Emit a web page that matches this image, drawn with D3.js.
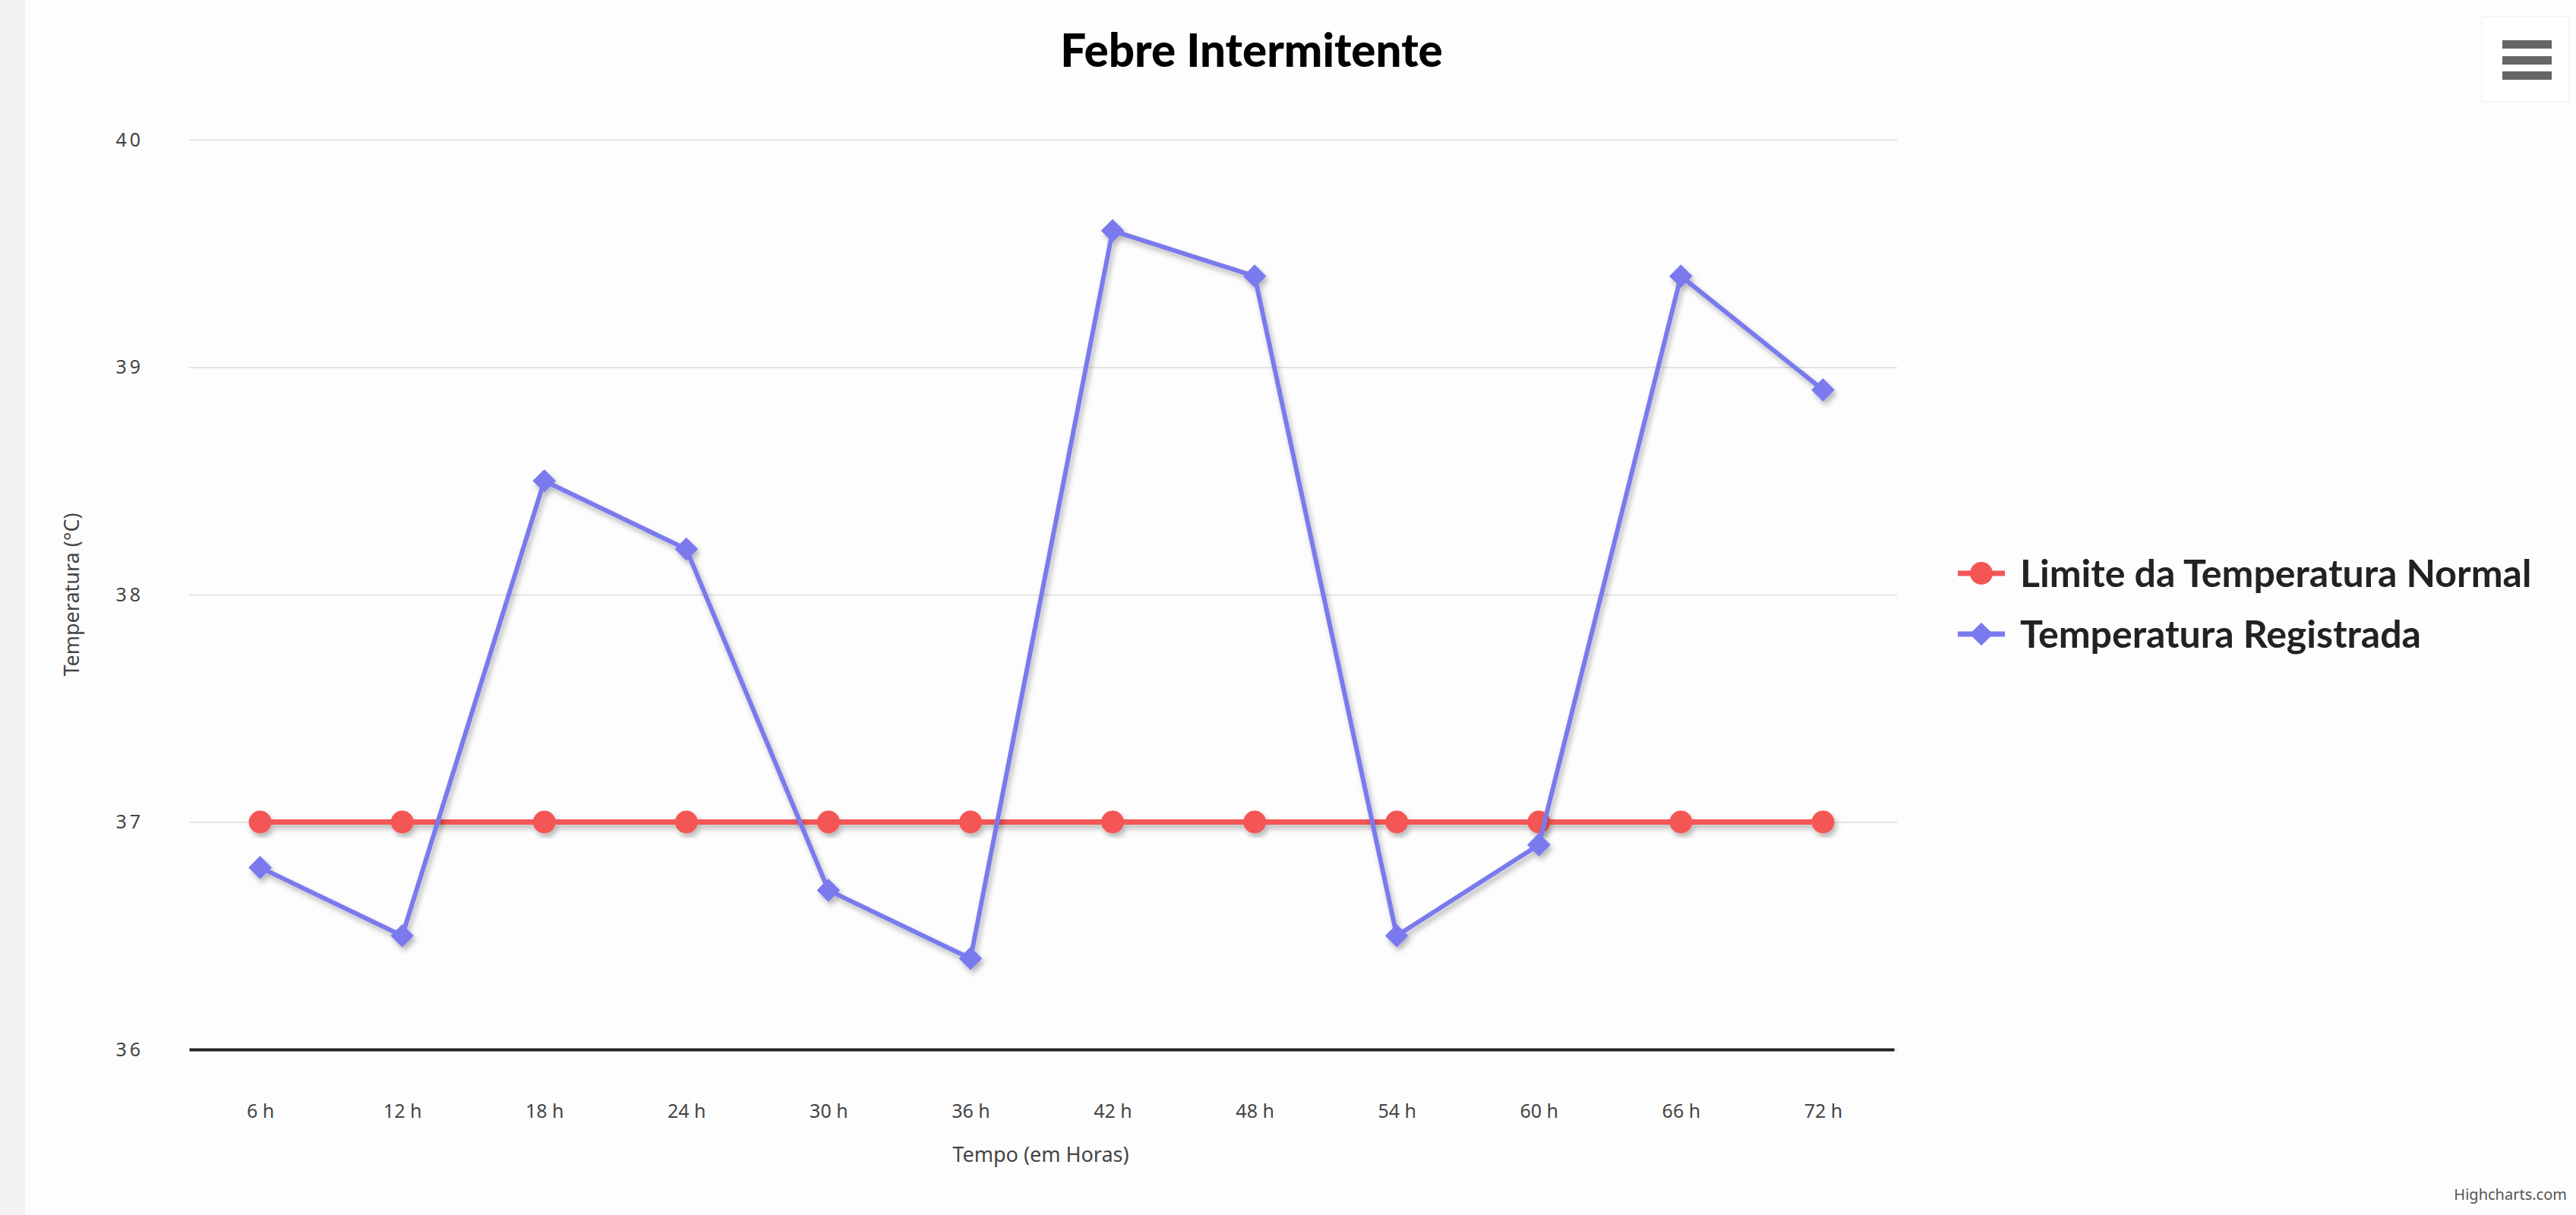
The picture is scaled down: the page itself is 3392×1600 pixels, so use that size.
<!DOCTYPE html>
<html>
<head>
<meta charset="utf-8">
<script src="https://cdnjs.cloudflare.com/ajax/libs/d3/7.8.5/d3.min.js"></script>
<style>
  html, body { margin: 0; padding: 0; background: #fcfcfc; }
  svg { display: block; }
  .tick text { font-family: "Noto Sans", sans-serif; fill: #444; }
</style>
</head>
<body>
<svg id="chart"></svg>
<script>
// chart data
var horas = ["6 h","12 h","18 h","24 h","30 h","36 h","42 h","48 h","54 h","60 h","66 h","72 h"],
  limiteNormal = [37,37,37,37,37,37,37,37,37,37,37,37],
  registrada = [36.8,36.5,38.5,38.2,36.7,36.4,39.6,39.4,36.5,36.9,39.4,38.9],
  yTicks = [36,37,38,39,40],
  serieNomes = ["Limite da Temperatura Normal","Temperatura Registrada"],
  serieCores = ["#f45555","#7a7aee"];

var width = 3392,
  height = 1600,
  plotLeft = 249, plotRight = 2494,
  plotTop = 184, plotBottom = 1382;

var svg = d3.select("#chart")
  .attr("width", width)
  .attr("height", height);

// soft shadow like the original
var defs = svg.append("defs");
var f = defs.append("filter").attr("id", "shadow")
  .attr("x", "-10%").attr("y", "-10%").attr("width", "120%").attr("height", "130%");
f.append("feDropShadow")
  .attr("dx", 3).attr("dy", 5).attr("stdDeviation", 3.5)
  .attr("flood-color", "#000").attr("flood-opacity", 0.28);

// background + left strip
svg.append("rect").attr("width", width).attr("height", height).attr("fill", "#fdfdfd");
svg.append("rect").attr("width", 33).attr("height", height).attr("fill", "#f2f2f2");

var x = d3.scalePoint().domain(horas).range([plotLeft, plotRight]).padding(0.5);
var y = d3.scaleLinear().domain([36, 40]).range([plotBottom, plotTop]);

// grid lines
svg.append("g")
  .attr("transform", "translate(" + plotLeft + ",0)")
  .call(d3.axisLeft(y).tickValues(yTicks).tickSize(-(plotRight - plotLeft + 4)).tickFormat(""))
  .call(function(g){ g.select(".domain").remove(); })
  .call(function(g){ g.selectAll("line").attr("stroke", "#e3e3e3").attr("stroke-width", 2); });

// y axis labels
svg.append("g")
  .attr("transform", "translate(" + plotLeft + ",0)")
  .call(d3.axisLeft(y).tickValues(yTicks).tickSize(0).tickPadding(60).tickFormat(d3.format("d")))
  .call(function(g){ g.select(".domain").remove(); })
  .call(function(g){ g.selectAll("text").attr("font-size", 25).attr("letter-spacing", 4); });

// x axis
svg.append("g")
  .attr("transform", "translate(0," + plotBottom + ")")
  .call(d3.axisBottom(x).tickSize(0).tickPadding(72).tickSizeOuter(0))
  .call(function(g){ g.select(".domain").attr("stroke", "#222").attr("stroke-width", 4); })
  .call(function(g){ g.selectAll("text").attr("font-size", 25); });

// axis titles
svg.append("text")
  .attr("x", (plotLeft + plotRight) / 2 - 1).attr("y", 1530)
  .attr("text-anchor", "middle")
  .attr("font-family", "Noto Sans, sans-serif").attr("font-size", 27).attr("fill", "#444")
  .text("Tempo (em Horas)");

svg.append("text")
  .attr("transform", "translate(104," + (y(38)) + ")rotate(-90)")
  .attr("text-anchor", "middle")
  .attr("font-family", "Noto Sans, sans-serif").attr("font-size", 27).attr("fill", "#444")
  .text("Temperatura (°C)");

// title
svg.append("text")
  .attr("x", 1648).attr("y", 88)
  .attr("text-anchor", "middle")
  .attr("font-family", "Lato, sans-serif").attr("font-weight", 900).attr("font-size", 60)
  .attr("fill", "#000")
  .text("Febre Intermitente");

var line = d3.line()
  .x(function(d, i){ return x(horas[i]); })
  .y(function(d){ return y(d); });

var diamond = d3.symbol().type(d3.symbolDiamond2).size(600);

// red series
var gRed = svg.append("g").attr("filter", "url(#shadow)");
gRed.append("path")
  .datum(limiteNormal)
  .attr("d", line)
  .attr("fill", "none").attr("stroke", serieCores[0]).attr("stroke-width", 7);
gRed.selectAll("circle")
  .data(limiteNormal).enter()
  .append("circle")
  .attr("cx", function(d, i){ return x(horas[i]); })
  .attr("cy", function(d){ return y(d); })
  .attr("r", 15)
  .attr("fill", serieCores[0]);

// blue series
var gBlue = svg.append("g").attr("filter", "url(#shadow)");
gBlue.append("path")
  .datum(registrada)
  .attr("d", line)
  .attr("fill", "none").attr("stroke", serieCores[1]).attr("stroke-width", 6)
  .attr("stroke-linejoin", "round");
gBlue.selectAll(".mk")
  .data(registrada).enter()
  .append("path")
  .attr("class", "mk")
  .attr("transform", function(d, i){ return "translate(" + x(horas[i]) + "," + y(d) + ")"; })
  .attr("d", diamond)
  .attr("fill", serieCores[1]);

// legend
var legend = svg.append("g").attr("transform", "translate(2578,0)");
var items = legend.selectAll("g")
  .data(serieNomes).enter()
  .append("g")
  .attr("transform", function(d, i){ return "translate(0," + (755 + i * 80) + ")"; });
items.append("line")
  .attr("x1", 0).attr("x2", 62)
  .attr("stroke", function(d, i){ return serieCores[i]; })
  .attr("stroke-width", 7);
items.each(function(d, i){
  var it = d3.select(this);
  if (i === 0) {
    it.append("circle").attr("cx", 31).attr("r", 15).attr("fill", serieCores[0]);
  } else {
    it.append("path").attr("transform", "translate(31,0)")
      .attr("d", d3.symbol().type(d3.symbolDiamond2).size(600)).attr("fill", serieCores[1]);
  }
});
items.append("text")
  .attr("x", 82).attr("dy", "0.35em")
  .attr("font-family", "Lato, sans-serif").attr("font-weight", 700).attr("font-size", 50)
  .attr("fill", "#222")
  .text(function(d){ return d; });

// menu button
var menu = svg.append("g").attr("transform", "translate(3268,22)");
menu.append("rect").attr("width", 115).attr("height", 112).attr("fill", "#fff")
  .attr("stroke", "#eee");
[31, 52, 72].forEach(function(yy){
  menu.append("rect").attr("x", 27).attr("y", yy).attr("width", 65).attr("height", 11).attr("fill", "#666");
});

// credits
svg.append("text")
  .attr("x", 3380).attr("y", 1580)
  .attr("text-anchor", "end")
  .attr("font-family", "Noto Sans, sans-serif").attr("font-size", 20).attr("fill", "#555")
  .text("Highcharts.com");
</script>
</body>
</html>
